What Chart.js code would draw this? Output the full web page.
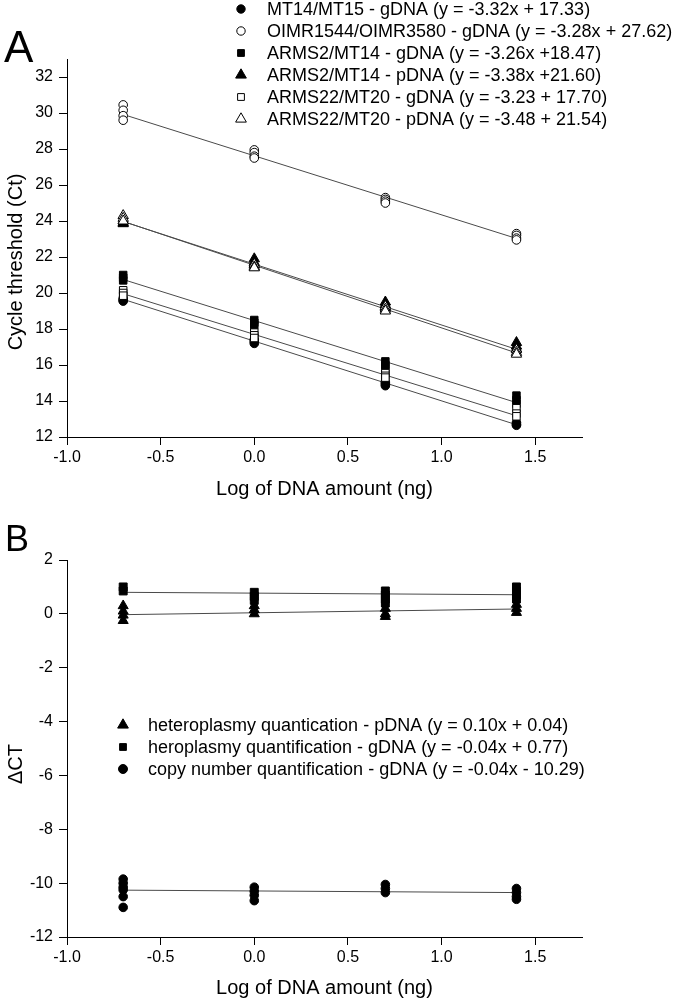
<!DOCTYPE html>
<html>
<head>
<meta charset="utf-8">
<script src="https://cdn.jsdelivr.net/npm/chart.js@4.4.1/dist/chart.umd.min.js"></script>
<style>
  html, body { margin: 0; padding: 0; background: #fff; }
  #wrap { position: relative; width: 678px; height: 1000px; }
  canvas { position: absolute; left: 0; }
  #cA { top: 0; }
  #cB { top: 520px; }
</style>
</head>
<body>
<div id="wrap">
  <canvas id="cA" width="678" height="520"></canvas>
  <canvas id="cB" width="678" height="480"></canvas>
</div>
<script>
// ---------------- DATA ----------------
const xLevels = [-0.7, 0.0, 0.7, 1.4];
const fitX = [-0.7, 1.4];
const xTicks = [-1.0, -0.5, 0.0, 0.5, 1.0, 1.5];
const yTicksA = [12, 14, 16, 18, 20, 22, 24, 26, 28, 30, 32];
const yTicksB = [-12, -10, -8, -6, -4, -2, 0, 2];

// Panel A: replicate Ct values at each x level
const mt1415G   = [[19.7, 19.6, 19.55], [17.4, 17.3, 17.2], [15.05, 14.95, 14.85], [12.8, 12.7, 12.65]];
const oimrG     = [[30.45, 30.15, 29.85, 29.6], [27.95, 27.8, 27.6, 27.5], [25.3, 25.2, 25.1, 25.0], [23.3, 23.2, 23.05, 22.95]];
const arms2G    = [[21.0, 20.85, 20.7], [18.5, 18.35, 18.2], [16.2, 16.0, 15.8], [14.3, 14.05, 13.85]];
const arms2P    = [[24.0, 23.9, 23.85], [21.9, 21.7, 21.55], [19.5, 19.35, 19.2], [17.25, 17.05, 16.9]];
const arms22G   = [[20.15, 20.0, 19.85], [17.8, 17.65, 17.5], [15.55, 15.4, 15.3], [13.6, 13.3, 13.15]];
const arms22P   = [[24.3, 24.15, 24.0], [21.6, 21.45, 21.4], [19.25, 19.1, 19.0], [16.85, 16.7, 16.6]];
// Panel A: fitted line end values at x = -0.7 and x = 1.4
const mt1415GFit = [19.65, 12.68];
const oimrGFit   = [29.92, 23.03];
const arms2GFit  = [20.75, 13.91];
const arms2PFit  = [23.97, 16.87];
const arms22GFit = [19.96, 13.18];
const arms22PFit = [23.98, 16.67];
const legendA = [
  "MT14/MT15 - gDNA (y = -3.32x + 17.33)",
  "OIMR1544/OIMR3580 - gDNA (y = -3.28x + 27.62)",
  "ARMS2/MT14 - gDNA (y = -3.26x +18.47)",
  "ARMS2/MT14 - pDNA (y = -3.38x +21.60)",
  "ARMS22/MT20 - gDNA (y = -3.23 + 17.70)",
  "ARMS22/MT20 - pDNA (y = -3.48 + 21.54)"
];

// Panel B: delta Ct replicate values
const heteroP = [[0.3, 0.1, -0.05, -0.25], [0.3, 0.15, 0.0], [0.2, 0.0, -0.1], [0.35, 0.2, 0.05]];
const heteroG = [[1.0, 0.85], [0.8, 0.65, 0.5], [0.85, 0.7, 0.55, 0.4], [1.0, 0.85, 0.7, 0.55]];
const copyG   = [[-9.85, -10.0, -10.15, -10.25, -10.5, -10.9], [-10.15, -10.3, -10.45, -10.65], [-10.05, -10.2, -10.35], [-10.2, -10.35, -10.5, -10.6]];
const heteroPFit = [-0.03, 0.18];
const heteroGFit = [0.80, 0.71];
const copyGFit   = [-10.26, -10.35];
const legendB = [
  "heteroplasmy quantication - pDNA (y = 0.10x + 0.04)",
  "heroplasmy quantification - gDNA (y = -0.04x + 0.77)",
  "copy number quantification - gDNA (y = -0.04x - 10.29)"
];

// ---------------- HELPERS ----------------
const FONT = "'Liberation Sans', Arial, Helvetica, sans-serif";
const LINE_COLOR = '#4a4a4a';

function toPoints(groups) {
  const pts = [];
  groups.forEach((vals, i) => vals.forEach(v => pts.push({ x: xLevels[i], y: v })));
  return pts;
}
function fitPoints(ends) {
  return ends.map((v, i) => ({ x: fitX[i], y: v }));
}
function scatterDs(groups, style, filled, r) {
  return {
    type: 'scatter', data: toPoints(groups), order: 0,
    pointStyle: style, pointRadius: r, pointHoverRadius: r,
    pointBackgroundColor: filled ? '#000' : '#fff',
    pointBorderColor: '#000', pointBorderWidth: 1, showLine: false
  };
}
function lineDs(ends) {
  return {
    type: 'line', data: fitPoints(ends), order: 1,
    borderColor: LINE_COLOR, borderWidth: 1, pointRadius: 0, fill: false, tension: 0
  };
}
function drawMarker(ctx, style, filled, r, x, y) {
  ctx.save();
  ctx.fillStyle = filled ? '#000' : '#fff';
  ctx.strokeStyle = '#000';
  ctx.lineWidth = 1;
  Chart.helpers.drawPoint(ctx, { pointStyle: style, radius: r, borderWidth: 1, rotation: 0 }, x, y);
  ctx.restore();
}

function axisOpts(min, max, ticksArr, fitSize, isX, tickPad) {
  return {
    type: 'linear', min: min, max: max,
    afterBuildTicks: s => { s.ticks = ticksArr.map(v => ({ value: v })); },
    afterFit: s => { if (isX) s.height = fitSize; else s.width = fitSize; },
    grid: { display: true, drawOnChartArea: false, drawTicks: true, tickLength: 8, color: '#000', lineWidth: 1 },
    border: { display: true, color: '#000', width: 1 },
    ticks: {
      color: '#000', padding: tickPad, font: { family: FONT, size: 16 },
      callback: v => isX ? Number(v).toFixed(1) : String(v)
    },
    title: isX ? { display: true, text: 'Log of DNA amount (ng)', color: '#000', font: { family: FONT, size: 20 }, padding: { top: 0, bottom: 0 } } : { display: false }
  };
}

// decoration plugin: panel letter, legend, y title
function decoPlugin(cfg) {
  return {
    id: 'deco' + cfg.letter,
    afterDraw(chart) {
      const ctx = chart.ctx;
      ctx.save();
      ctx.fillStyle = '#000';
      ctx.textBaseline = 'alphabetic';
      ctx.textAlign = 'left';
      ctx.font = cfg.letterSize + 'px ' + FONT;
      ctx.fillText(cfg.letter, cfg.letterX, cfg.letterY);
      // y title
      ctx.save();
      ctx.translate(cfg.yTitleX, cfg.yTitleY);
      ctx.rotate(-Math.PI / 2);
      ctx.textAlign = 'center';
      ctx.textBaseline = 'middle';
      ctx.font = '20px ' + FONT;
      ctx.fillText(cfg.yTitle, 0, 0);
      ctx.restore();
      // legend
      ctx.font = '18px ' + FONT;
      ctx.textBaseline = 'middle';
      cfg.legend.forEach((txt, i) => {
        const y = cfg.legY + i * cfg.legStep;
        const m = cfg.markers[i];
        drawMarker(ctx, m[0], m[1], m[2], cfg.legMarkX, y);
        ctx.fillStyle = '#000';
        ctx.fillText(txt, cfg.legTextX, y + 1);
      });
      ctx.restore();
    }
  };
}

// ---------------- PANEL A ----------------
const chartA = new Chart(document.getElementById('cA'), {
  type: 'scatter',
  data: {
    datasets: [
      lineDs(mt1415GFit), lineDs(oimrGFit), lineDs(arms2GFit),
      lineDs(arms2PFit), lineDs(arms22GFit), lineDs(arms22PFit),
      scatterDs(oimrG, 'circle', false, 4.3),
      scatterDs(arms22P, 'triangle', false, 6),
      scatterDs(arms2P, 'triangle', true, 6),
      scatterDs(arms22G, 'rect', false, 5.3),
      scatterDs(arms2G, 'rect', true, 5.3),
      scatterDs(mt1415G, 'circle', true, 4.3)
    ]
  },
  options: {
    responsive: false, animation: false, events: [],
    layout: { padding: { left: 0, top: 59, right: 96, bottom: 19 } },
    plugins: { legend: { display: false }, tooltip: { enabled: false } },
    scales: {
      x: axisOpts(-1, 1.75, xTicks, 64, true, 3),
      y: axisOpts(12, 33, yTicksA, 67, false, 6)
    }
  },
  plugins: [decoPlugin({
    letter: 'A', letterSize: 44, letterX: 4, letterY: 62,
    yTitle: 'Cycle threshold (Ct)', yTitleX: 16, yTitleY: 262,
    legend: legendA, legY: 9, legStep: 22, legMarkX: 241, legTextX: 267,
    markers: [['circle', true, 4.2], ['circle', false, 4.2], ['rect', true, 4.8], ['triangle', true, 6.2], ['rect', false, 4.8], ['triangle', false, 6.2]]
  })]
});

// ---------------- PANEL B ----------------
const chartB = new Chart(document.getElementById('cB'), {
  type: 'scatter',
  data: {
    datasets: [
      lineDs(heteroPFit), lineDs(heteroGFit), lineDs(copyGFit),
      scatterDs(heteroG, 'rect', true, 5.6),
      scatterDs(heteroP, 'triangle', true, 5.8),
      scatterDs(copyG, 'circle', true, 4.3)
    ]
  },
  options: {
    responsive: false, animation: false, events: [],
    layout: { padding: { left: 0, top: 40, right: 96, bottom: 0 } },
    plugins: { legend: { display: false }, tooltip: { enabled: false } },
    scales: {
      x: axisOpts(-1, 1.75, xTicks, 63, true, 3),
      y: axisOpts(-12, 2, yTicksB, 67, false, 6)
    }
  },
  plugins: [decoPlugin({
    letter: 'B', letterSize: 36, letterX: 5, letterY: 31,
    yTitle: 'ΔCT', yTitleX: 16, yTitleY: 244,
    legend: legendB, legY: 205, legStep: 22, legMarkX: 123, legTextX: 148,
    markers: [['triangle', true, 6.2], ['rect', true, 4.8], ['circle', true, 4.5]]
  })]
});
</script>
</body>
</html>
